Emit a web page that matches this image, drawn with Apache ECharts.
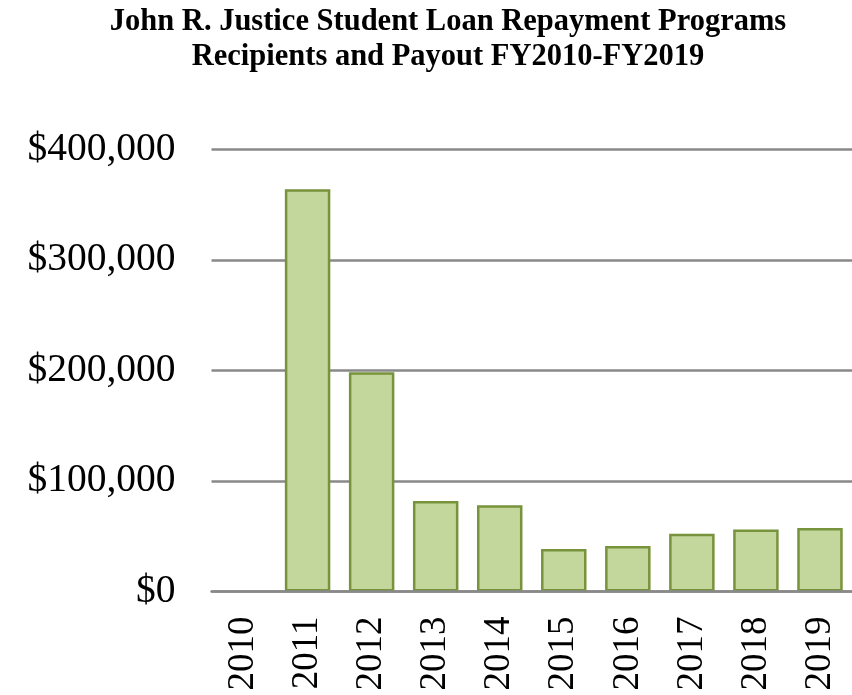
<!DOCTYPE html>
<html>
<head>
<meta charset="utf-8">
<script src="https://cdn.jsdelivr.net/npm/echarts@6/dist/echarts.min.js"></script>
<style>
html,body{margin:0;padding:0;background:#fff;}
#chart{width:852px;height:695px;}
</style>
</head>
<body>
<div id="chart"></div>
<script>
const titleLines = ['John R. Justice Student Loan Repayment Programs', 'Recipients and Payout FY2010-FY2019'];
const years = ['2010','2011','2012','2013','2014','2015','2016','2017','2018','2019'];
const payout = [null, 364000, 198500, 81800, 78000, 38500, 41200, 52300, 56100, 57500];
const yTicks = [0, 100000, 200000, 300000, 400000];

const chart = echarts.init(document.getElementById('chart'), null, {renderer: 'canvas'});
const serif = '"Liberation Serif", "Times New Roman", serif';
chart.setOption({
  animation: false,
  backgroundColor: '#ffffff',
  title: {
    text: titleLines.join('\n'),
    left: 448,
    top: 5,
    textAlign: 'center',
    padding: 0,
    textStyle: {
      fontFamily: serif,
      fontWeight: 'bold',
      fontSize: 30.5,
      lineHeight: 35,
      color: '#000000'
    }
  },
  grid: {
    left: 211.5,
    right: -2,
    top: 149.5,
    bottom: 103.5,
    containLabel: false
  },
  xAxis: {
    type: 'category',
    data: years,
    z: 5,
    axisLine: {show: true, lineStyle: {color: '#898989', width: 2.5}},
    axisTick: {show: false},
    axisLabel: {
      rotate: 90,
      margin: 25,
      interval: 0,
      fontFamily: serif,
      fontSize: 37,
      color: '#000000'
    }
  },
  yAxis: {
    type: 'value',
    min: yTicks[0],
    max: yTicks[yTicks.length - 1],
    interval: yTicks[1] - yTicks[0],
    axisLine: {show: false},
    axisTick: {show: false},
    splitLine: {show: true, lineStyle: {color: '#898989', width: 2.5}},
    axisLabel: {
      margin: 36,
      fontFamily: serif,
      fontSize: 39.5,
      color: '#000000',
      formatter: v => '$' + v.toLocaleString('en-US')
    }
  },
  series: [{
    type: 'bar',
    data: payout,
    barCategoryGap: '29%',
    itemStyle: {
      color: '#c3d69b',
      borderColor: '#77933c',
      borderWidth: 2.5
    }
  }]
});
</script>
</body>
</html>
